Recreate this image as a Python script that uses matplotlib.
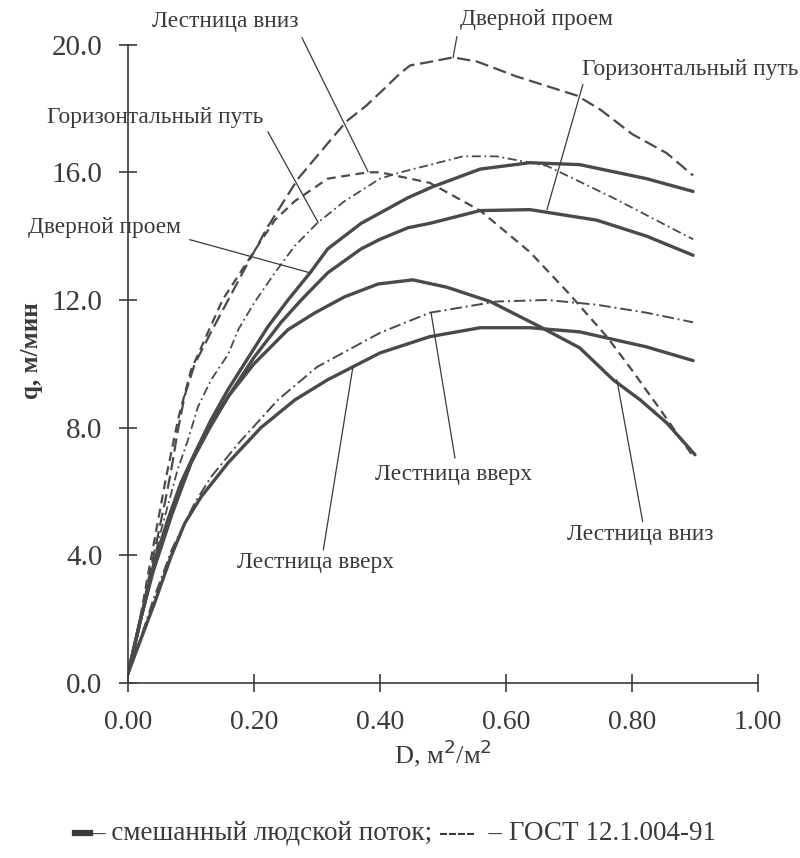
import numpy as np
import matplotlib
matplotlib.use("Agg")
from matplotlib import pyplot as plt
from matplotlib.lines import Line2D

# --- data (D in m2/m2, q in m/min) ---
# GOST 12.1.004-91 curves (dashed)
gost_door_D = [0.0, 0.01, 0.03, 0.058, 0.068, 0.079, 0.09, 0.106, 0.132, 0.159, 0.186, 0.222, 0.27, 0.321, 0.347, 0.379, 0.411, 0.432, 0.448, 0.474, 0.516, 0.554, 0.617, 0.713, 0.75, 0.8, 0.855, 0.897]
gost_door_q = [0.3, 1.0, 3.0, 5.6, 6.6, 7.9, 9.0, 10.0, 11.0, 12.0, 13.0, 14.3, 15.8, 17.0, 17.6, 18.1, 18.7, 19.1, 19.35, 19.44, 19.6, 19.47, 19.0, 18.4, 17.96, 17.2, 16.6, 15.9]

gost_horiz_D = [0.0, 0.02, 0.05, 0.079, 0.095, 0.111, 0.132, 0.159, 0.175, 0.2, 0.233, 0.265, 0.3, 0.344, 0.4, 0.433, 0.532, 0.585, 0.665, 0.77, 0.897]
gost_horiz_q = [0.3, 2.0, 4.6, 6.7, 7.6, 8.65, 9.5, 10.3, 11.07, 11.9, 12.85, 13.7, 14.4, 15.1, 15.8, 16.0, 16.5, 16.5, 16.2, 15.2, 13.9]

gost_down_D = [0.0, 0.01, 0.03, 0.06, 0.08, 0.1, 0.15, 0.206, 0.233, 0.265, 0.317, 0.381, 0.4, 0.479, 0.559, 0.638, 0.7, 0.76, 0.8, 0.845, 0.897]
gost_down_q = [0.3, 1.0, 3.2, 6.4, 8.3, 9.8, 12.0, 13.7, 14.5, 15.1, 15.8, 16.0, 16.0, 15.67, 14.8, 13.5, 12.2, 10.85, 9.8, 8.56, 7.1]

gost_up_D = [0.0, 0.02, 0.04, 0.07, 0.106, 0.132, 0.175, 0.238, 0.3, 0.4, 0.479, 0.585, 0.665, 0.744, 0.823, 0.897]
gost_up_q = [0.3, 1.4, 2.6, 4.2, 5.64, 6.46, 7.5, 8.87, 9.9, 10.97, 11.6, 11.95, 12.0, 11.85, 11.6, 11.3]

# mixed flow curves (solid)
mix_door_D = [0.0, 0.005, 0.021, 0.043, 0.063, 0.084, 0.106, 0.132, 0.159, 0.222, 0.254, 0.289, 0.317, 0.37, 0.444, 0.484, 0.559, 0.638, 0.717, 0.823, 0.897]
mix_door_q = [0.3, 0.7, 2.07, 3.86, 5.1, 6.27, 7.2, 8.25, 9.2, 11.16, 12.0, 12.85, 13.6, 14.4, 15.2, 15.55, 16.1, 16.3, 16.24, 15.8, 15.4]

mix_horiz_D = [0.0, 0.02, 0.04, 0.07, 0.1, 0.13, 0.16, 0.2, 0.243, 0.275, 0.317, 0.37, 0.4, 0.444, 0.479, 0.559, 0.638, 0.744, 0.823, 0.897]
mix_horiz_q = [0.3, 2.0, 3.5, 5.3, 6.9, 8.0, 9.0, 10.2, 11.3, 12.0, 12.85, 13.6, 13.9, 14.26, 14.4, 14.8, 14.83, 14.5, 14.0, 13.4]

mix_down_D = [0.0, 0.02, 0.04, 0.07, 0.1, 0.13, 0.16, 0.2, 0.254, 0.297, 0.344, 0.397, 0.452, 0.506, 0.575, 0.654, 0.717, 0.77, 0.813, 0.855, 0.9]
mix_down_q = [0.3, 2.0, 3.6, 5.4, 6.9, 8.1, 9.0, 10.0, 11.07, 11.6, 12.1, 12.5, 12.63, 12.4, 11.95, 11.16, 10.5, 9.5, 8.87, 8.15, 7.15]

mix_up_D = [0.0, 0.02, 0.042, 0.068, 0.09, 0.116, 0.159, 0.211, 0.265, 0.317, 0.4, 0.479, 0.559, 0.638, 0.717, 0.823, 0.897]
mix_up_q = [0.3, 1.35, 2.5, 3.95, 5.0, 5.83, 6.9, 8.0, 8.87, 9.5, 10.34, 10.85, 11.13, 11.13, 11.0, 10.53, 10.1]

x_ticks = [0.0, 0.2, 0.4, 0.6, 0.8, 1.0]
y_ticks = [0.0, 4.0, 8.0, 12.0, 16.0, 20.0]

# labels: text, text position, leader start, leader end
labels = ["Лестница вниз", "Горизонтальный путь", "Дверной проем", "Дверной проем",
          "Горизонтальный путь", "Лестница вверх", "Лестница вниз", "Лестница вверх"]
label_pos = [(0.154, 20.72), (0.043, 17.71), (-0.037, 14.26), (0.649, 20.78),
             (0.892, 19.22), (0.517, 6.52), (0.813, 4.64), (0.298, 3.79)]
leader_from = [(0.276, 20.22), (0.222, 17.27), (0.098, 13.89), (0.522, 20.25),
               (0.722, 18.75), (0.519, 7.05), (0.817, 5.05), (0.31, 4.17)]
leader_to = [(0.381, 16.02), (0.302, 14.42), (0.289, 12.85), (0.516, 19.59),
             (0.665, 14.83), (0.481, 11.6), (0.776, 9.5), (0.357, 9.9)]

plt.rcParams['font.family'] = ['Liberation Serif', 'DejaVu Serif']
ink = '#3a3a3a'

fig = plt.figure(figsize=(8, 8.58), dpi=100)
ax = fig.add_axes([0.16, 0.204, 0.7875, 0.744])

solid_kw = dict(color='#4a4a4a', lw=2.4, solid_capstyle='round')
ax.plot(mix_door_D, mix_door_q, **solid_kw)
ax.plot(mix_horiz_D, mix_horiz_q, **solid_kw)
ax.plot(mix_down_D, mix_down_q, **solid_kw)
ax.plot(mix_up_D, mix_up_q, **solid_kw)

ax.plot(gost_door_D, gost_door_q, color='#4a4a4a', lw=1.6, dashes=(6, 2.5))
ax.plot(gost_horiz_D, gost_horiz_q, color='#4a4a4a', lw=1.3, dashes=(5, 2, 1, 2))
ax.plot(gost_down_D, gost_down_q, color='#4a4a4a', lw=1.6, dashes=(4, 2.5))
ax.plot(gost_up_D, gost_up_q, color='#4a4a4a', lw=1.4, dashes=(6, 2, 1, 2))

for txt, pos, p0, p1 in zip(labels, label_pos, leader_from, leader_to):
    ax.text(pos[0], pos[1], txt, fontsize=16.8, color=ink, ha='center', va='center', clip_on=False)
    ax.annotate('', xy=p1, xytext=p0, annotation_clip=False,
                arrowprops=dict(arrowstyle='-', color=ink, lw=0.9, shrinkA=0, shrinkB=0))

ax.set_xlim(0, 1.0)
ax.set_ylim(0, 20.0)
ax.set_xticks(x_ticks)
ax.set_xticklabels(['%.2f' % v for v in x_ticks])
ax.set_yticks(y_ticks)
ax.set_yticklabels(['%.1f' % v for v in y_ticks])
for s in ['top', 'right']:
    ax.spines[s].set_visible(False)
for s in ['left', 'bottom']:
    ax.spines[s].set_color(ink)
    ax.spines[s].set_linewidth(1.2)
ax.tick_params(direction='inout', length=13, width=1.2, colors=ink)
ax.tick_params(axis='y', labelsize=21, pad=12)
ax.tick_params(axis='x', labelsize=20, pad=13)

ax.set_xlabel('D, м$^2$/м$^2$', fontsize=19, color=ink, labelpad=2)
ax.set_ylabel('q, м/мин', fontsize=18, color=ink, fontweight='bold', labelpad=0)
ax.yaxis.set_label_coords(-0.135, 0.52)

# legend line under the chart
fig.add_artist(Line2D([0.094, 0.112], [0.029, 0.029], color='#3a3a3a', lw=4.5))
fig.text(0.114, 0.029, '– смешанный людской поток; ----  – ГОСТ 12.1.004-91',
         fontsize=19.5, color=ink, ha='left', va='center')

plt.savefig('out.png', dpi=100)
